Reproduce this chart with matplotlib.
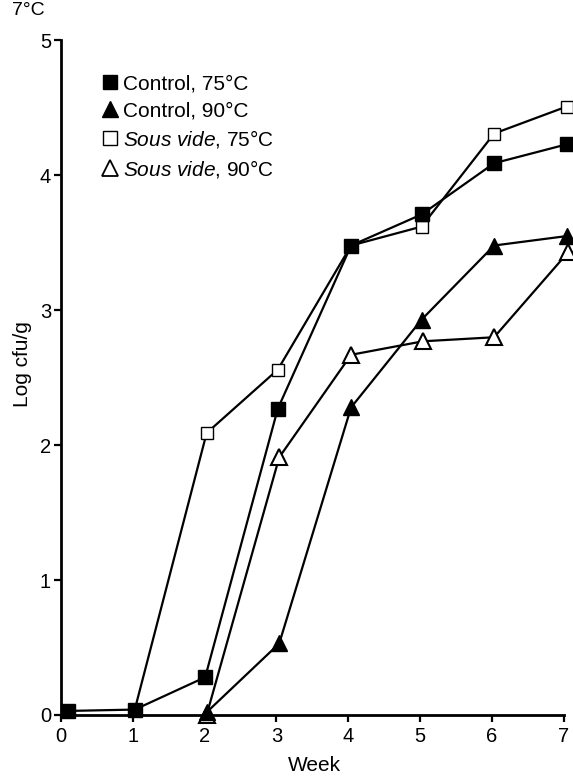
import matplotlib
matplotlib.use("Agg")
import matplotlib.pyplot as plt
from matplotlib.lines import Line2D

plt.rcParams["font.family"] = ["Liberation Sans", "DejaVu Sans"]
plt.rcParams["mathtext.fontset"] = "custom"
plt.rcParams["mathtext.rm"] = "Liberation Sans"
plt.rcParams["mathtext.it"] = "Liberation Sans:italic"

# Data (log cfu/g per week, 7°C storage)
weeks_c75 = [0.1, 1.03, 2.01, 3.02, 4.04, 5.02, 6.03, 7.04]
control_75 = [0.03, 0.04, 0.28, 2.27, 3.48, 3.71, 4.09, 4.23]

weeks_c90 = [2.03, 3.04, 4.04, 5.02, 6.03, 7.04]
control_90 = [0.02, 0.53, 2.28, 2.93, 3.48, 3.55]

weeks_s75 = [1.03, 2.03, 3.02, 4.04, 5.02, 6.03, 7.04]
sous_75 = [0.04, 2.09, 2.56, 3.48, 3.62, 4.31, 4.51]

weeks_s90 = [2.03, 3.04, 4.04, 5.04, 6.03, 7.06]
sous_90 = [0.0, 1.91, 2.67, 2.77, 2.80, 3.43]

labels = [
    "Control, 75°C",
    "Control, 90°C",
    r"$\it{Sous\ vide}$, 75°C",
    r"$\it{Sous\ vide}$, 90°C",
]

fig = plt.figure(figsize=(5.73, 7.78), dpi=100)
ax = fig.add_axes([0.106, 0.081, 0.878, 0.867])

lw = 1.6
ax.plot(weeks_s75, sous_75, color="black", lw=lw, marker="s", ms=9,
        mfc="white", mec="black", mew=1.0, clip_on=False, zorder=3)
ax.plot(weeks_s90, sous_90, color="black", lw=lw, marker="^", ms=11,
        mfc="white", mec="black", mew=1.5, clip_on=False, zorder=3)
ax.plot(weeks_c90, control_90, color="black", lw=lw, marker="^", ms=11,
        mfc="black", mec="black", clip_on=False, zorder=4)
ax.plot(weeks_c75, control_75, color="black", lw=lw, marker="s", ms=10,
        mfc="black", mec="black", clip_on=False, zorder=4)

ax.set_xlim(0, 7)
ax.set_ylim(0, 5)
ax.set_xticks(range(0, 8))
ax.set_yticks(range(0, 6))
ax.tick_params(labelsize=14.5, width=1.6, length=5, direction="out")
ax.tick_params(axis="x", pad=4)
ax.tick_params(axis="y", pad=2)
for s in ["top", "right"]:
    ax.spines[s].set_visible(False)
for s in ["left", "bottom"]:
    ax.spines[s].set_linewidth(2)

ax.set_xlabel("Week", fontsize=15)
ax.xaxis.set_label_coords(0.505, -0.061)
ax.set_ylabel("Log cfu/g", fontsize=15)
ax.yaxis.set_label_coords(-0.058, 0.52)
fig.text(0.021, 0.987, "7°C", fontsize=14, ha="left", va="center")

handles = [
    Line2D([], [], ls="none", marker="s", ms=10, mfc="black", mec="black"),
    Line2D([], [], ls="none", marker="^", ms=12, mfc="black", mec="black"),
    Line2D([], [], ls="none", marker="s", ms=10, mfc="white", mec="black", mew=1.0),
    Line2D([], [], ls="none", marker="^", ms=12, mfc="white", mec="black", mew=1.3),
]
ax.legend(handles, labels, loc="upper left", bbox_to_anchor=(0.06, 0.965),
          frameon=False, fontsize=15, handlelength=0.8, handletextpad=0.25,
          labelspacing=0.37, borderpad=0)

fig.savefig("out.png", dpi=100)
